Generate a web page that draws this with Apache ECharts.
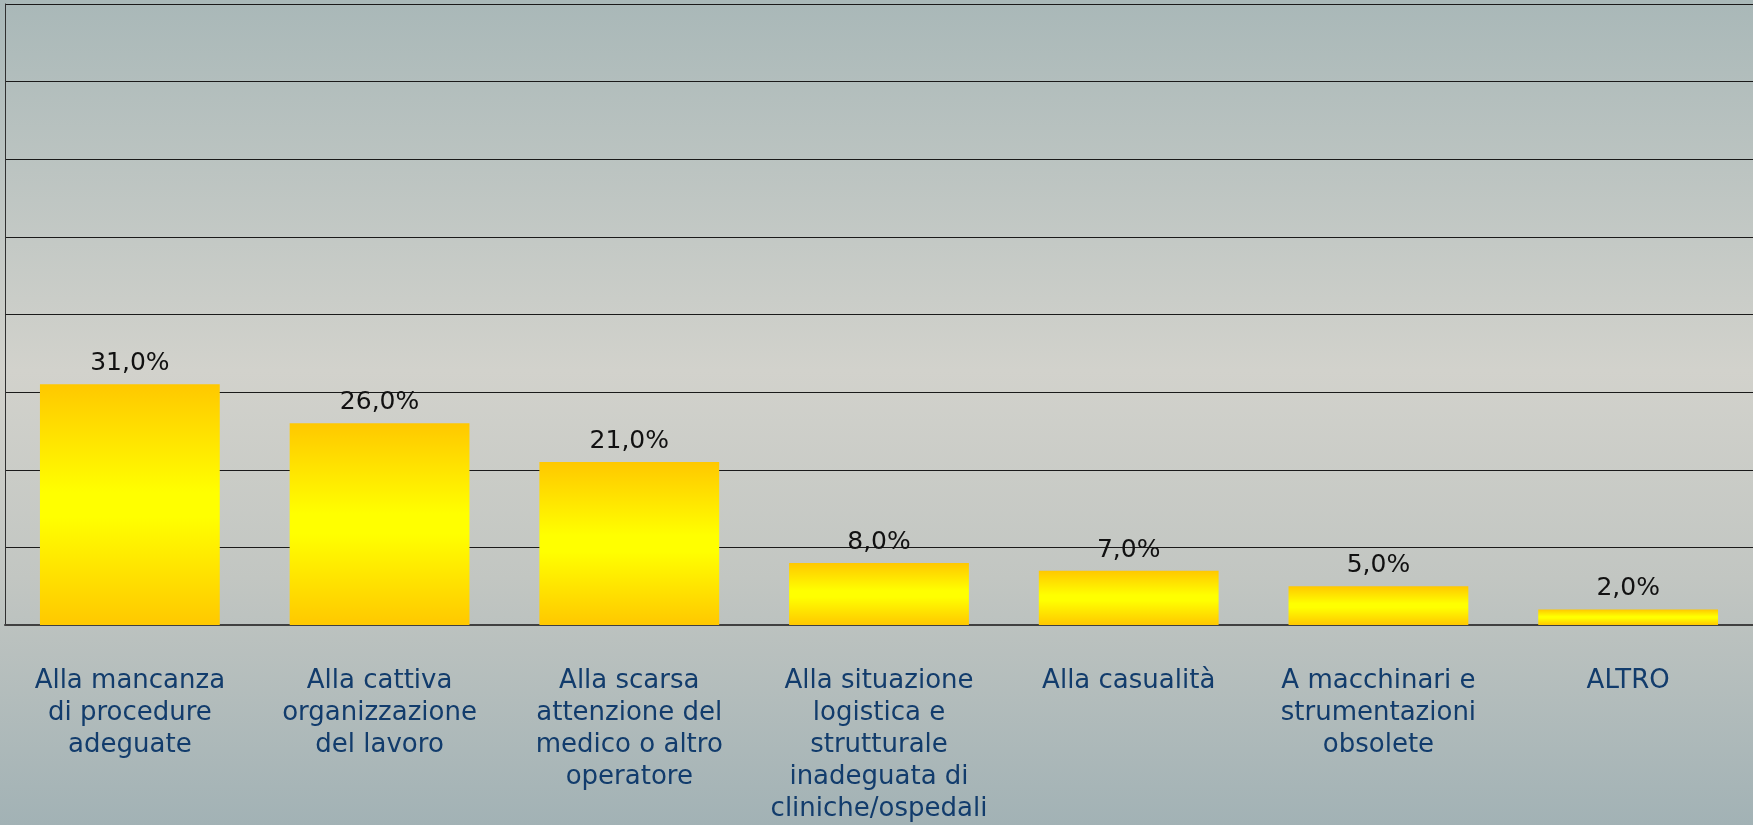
<!DOCTYPE html>
<html>
<head>
<meta charset="utf-8">
<script src="https://cdn.jsdelivr.net/npm/echarts@6/dist/echarts.min.js"></script>
<style>
  html, body { margin: 0; padding: 0; }
  #chart { width: 1753px; height: 825px; }
</style>
</head>
<body>
<div id="chart"></div>
<script>
// Cause labels (wrapped as in the original) and percentages
const categories = [
  'Alla mancanza\ndi procedure\nadeguate',
  'Alla cattiva\norganizzazione\ndel lavoro',
  'Alla scarsa\nattenzione del\nmedico o altro\noperatore',
  'Alla situazione\nlogistica e\nstrutturale\ninadeguata di\ncliniche/ospedali',
  'Alla casualità',
  'A macchinari e\nstrumentazioni\nobsolete',
  'ALTRO'
];
const values = [31, 26, 21, 8, 7, 5, 2];
const yMin = 0;
const yMax = 80;
const yStep = 10;

const chart = echarts.init(document.getElementById('chart'));

const barGradient = new echarts.graphic.LinearGradient(0, 0, 0, 1, [
  { offset: 0, color: '#ffc800' },
  { offset: 0.45, color: '#ffff00' },
  { offset: 0.55, color: '#ffff00' },
  { offset: 1, color: '#ffc800' }
]);

const option = {
  backgroundColor: new echarts.graphic.LinearGradient(0, 0, 0, 1, [
    { offset: 0, color: '#a9b8b8' },
    { offset: 0.45, color: '#d2d2cc' },
    { offset: 0.7, color: '#c2c6c2' },
    { offset: 1, color: '#a2b2b5' }
  ]),
  animation: false,
  grid: {
    left: 5,
    right: 0,
    top: 4,
    bottom: 200,
    containLabel: false
  },
  xAxis: {
    type: 'category',
    data: categories,
    axisLine: { show: true, lineStyle: { color: '#404040', width: 2 } },
    axisTick: { show: false },
    axisLabel: {
      interval: 0,
      margin: 40,
      fontFamily: 'DejaVu Sans',
      fontSize: 26,
      lineHeight: 32,
      color: '#123c6c',
      align: 'center'
    }
  },
  yAxis: {
    type: 'value',
    min: yMin,
    max: yMax,
    interval: yStep,
    axisLine: { show: true, lineStyle: { color: '#303030', width: 1 } },
    axisTick: { show: false },
    axisLabel: { show: false },
    splitLine: { show: true, lineStyle: { color: '#1a1a1a', width: 1 } }
  },
  series: [{
    type: 'bar',
    data: values,
    barCategoryGap: '28%',
    itemStyle: { color: barGradient },
    label: {
      show: true,
      position: 'top',
      distance: 8,
      fontFamily: 'DejaVu Sans',
      fontSize: 25,
      color: '#111111',
      formatter: p => p.value.toFixed(1).replace('.', ',') + '%'
    }
  }]
};

chart.setOption(option);
</script>
</body>
</html>
